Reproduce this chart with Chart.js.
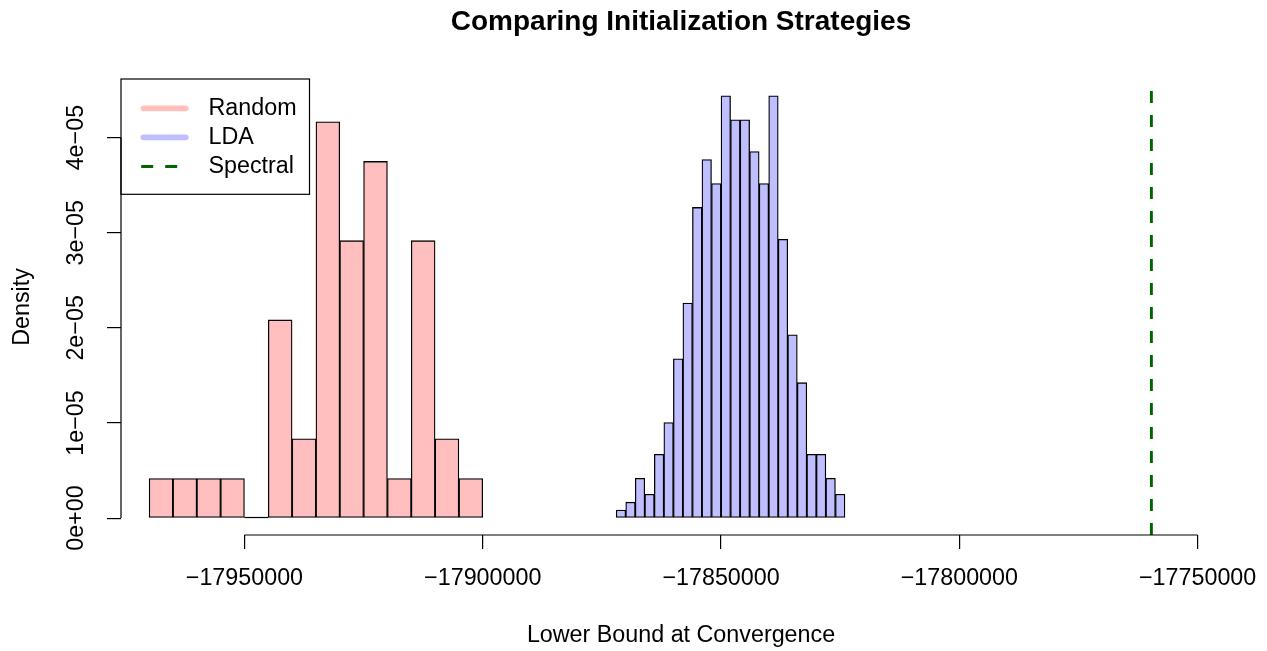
<!DOCTYPE html>
<html>
<head>
<meta charset="utf-8">
<script src="https://cdn.jsdelivr.net/npm/chart.js@4/dist/chart.umd.min.js"></script>
<style>
html,body{margin:0;padding:0;background:#fff;}
#wrap{width:1267px;height:651px;position:relative;}
</style>
</head>
<body>
<div id="wrap"><canvas id="c"></canvas></div>
<script>
// ---- data ----
const titleText = 'Comparing Initialization Strategies';
const xTitleText = 'Lower Bound at Convergence';
const yTitleText = 'Density';
const seriesNames = ['Random', 'LDA', 'Spectral'];

const randomBreaks = [-17970000, -17965000, -17960000, -17955000, -17950000, -17945000, -17940000,
  -17935000, -17930000, -17925000, -17920000, -17915000, -17910000, -17905000, -17900000];
const randomCounts = [1, 1, 1, 1, 0, 5, 2, 10, 7, 9, 1, 7, 2, 1];

const ldaBreaks = [-17872000, -17870000, -17868000, -17866000, -17864000, -17862000, -17860000,
  -17858000, -17856000, -17854000, -17852000, -17850000, -17848000, -17846000, -17844000,
  -17842000, -17840000, -17838000, -17836000, -17834000, -17832000, -17830000, -17828000,
  -17826000, -17824000];
const ldaCounts = [1, 2, 5, 3, 8, 12, 20, 27, 39, 45, 42, 53, 50, 50, 46, 42, 53, 35, 23, 17, 8, 8, 5, 3];

const spectralValue = -17759700;

const xTickValues = [-17950000, -17900000, -17850000, -17800000, -17750000];
const yTickValues = [0, 1e-5, 2e-5, 3e-5, 4e-5];
const xLimits = [-17975900, -17740900];

// ---- styling ----
const FONT = "'Liberation Sans', Arial, Helvetica, sans-serif";
const BASE = 23.3;
const randomFill = 'rgb(255,191,191)';
const ldaFill = 'rgb(191,191,255)';
const spectralColor = '#006400';

// histogram densities (count / (n * binwidth))
function toBars(breaks, counts) {
  const total = counts.reduce((a, b) => a + b, 0);
  return counts.map((c, i) => ({
    x: (breaks[i] + breaks[i + 1]) / 2,
    y: c / (total * (breaks[i + 1] - breaks[i]))
  }));
}
const randomData = toBars(randomBreaks, randomCounts);
const ldaData = toBars(ldaBreaks, ldaCounts);
const yTop = Math.max(...randomData.map(d => d.y), ...ldaData.map(d => d.y));
const yLimits = [-0.04 * yTop, 1.04 * yTop];

function fmtX(v) { return (v < 0 ? '\u2212' : '') + Math.abs(v); }
function fmtY(v) {
  if (v === 0) return '0e+00';
  const e = Math.floor(Math.log10(Math.abs(v)) + 1e-9);
  const m = Math.round(v / Math.pow(10, e));
  return m + 'e' + (e < 0 ? '\u2212' : '+') + String(Math.abs(e)).padStart(2, '0');
}

// R-style axis lines (only between first and last tick) + zero-height bins + legend
const rAxes = {
  id: 'rAxes',
  afterDatasetsDraw(chart) {
    const ctx = chart.ctx;
    ctx.save();
    ctx.strokeStyle = '#000';
    ctx.lineWidth = 1.2;
    chart.data.datasets.forEach((ds, di) => {
      if (ds.type === 'line') return;
      const meta = chart.getDatasetMeta(di);
      meta.data.forEach((el, i) => {
        if (ds.data[i].y === 0) {
          const p = el.getProps(['x', 'width', 'base'], true);
          ctx.beginPath();
          ctx.moveTo(p.x - p.width / 2, p.base - 0.6);
          ctx.lineTo(p.x + p.width / 2, p.base - 0.6);
          ctx.stroke();
        }
      });
    });
    ctx.restore();
  },
  afterDraw(chart) {
    const {ctx, chartArea: a, scales: {x, y}} = chart;
    ctx.save();
    ctx.strokeStyle = '#000';
    ctx.lineWidth = 1.2;
    ctx.beginPath();
    ctx.moveTo(x.getPixelForValue(xTickValues[0]), a.bottom);
    ctx.lineTo(x.getPixelForValue(xTickValues[xTickValues.length - 1]), a.bottom);
    ctx.moveTo(a.left, y.getPixelForValue(yTickValues[0]));
    ctx.lineTo(a.left, y.getPixelForValue(yTickValues[yTickValues.length - 1]));
    ctx.stroke();

    // legend (top-left of plot region)
    const L = a.left, T = a.top, W = 188.5, H = 115.3;
    ctx.lineWidth = 1.2;
    ctx.strokeRect(L, T, W, H);
    const rowY = [T + 29.3, T + 58.3, T + 87.5];
    chart.data.datasets.forEach((ds, i) => {
      const yy = rowY[i];
      ctx.beginPath();
      if (ds.type === 'line') {
        ctx.setLineDash(ds.borderDash);
        ctx.lineCap = 'butt';
        ctx.lineWidth = ds.borderWidth;
        ctx.strokeStyle = ds.borderColor;
        ctx.moveTo(L + 20.2, yy);
        ctx.lineTo(L + 68, yy);
      } else {
        ctx.setLineDash([]);
        ctx.lineCap = 'round';
        ctx.lineWidth = 5.8;
        ctx.strokeStyle = ds.backgroundColor;
        ctx.moveTo(L + 22.5, yy);
        ctx.lineTo(L + 64.7, yy);
      }
      ctx.stroke();
      ctx.setLineDash([]);
      ctx.fillStyle = '#000';
      ctx.font = BASE + 'px ' + FONT;
      ctx.textAlign = 'left';
      ctx.textBaseline = 'middle';
      ctx.fillText(ds.label, L + 87.5, yy);
    });
    ctx.restore();
  }
};

const tickGrid = {
  display: true, drawOnChartArea: false, drawTicks: true, tickLength: 14,
  color: '#000', lineWidth: 1.2, offset: false
};

new Chart(document.getElementById('c'), {
  type: 'bar',
  data: {
    datasets: [
      {
        label: seriesNames[0], data: randomData, xAxisID: 'x',
        backgroundColor: randomFill, borderColor: '#000', borderWidth: 1.3,
        borderSkipped: false, barPercentage: 1, categoryPercentage: 1, grouped: false
      },
      {
        label: seriesNames[1], data: ldaData, xAxisID: 'x2',
        backgroundColor: ldaFill, borderColor: '#000', borderWidth: 1.3,
        borderSkipped: false, barPercentage: 1, categoryPercentage: 1, grouped: false
      },
      {
        type: 'line', label: seriesNames[2], xAxisID: 'x',
        data: [{x: spectralValue, y: yLimits[0]}, {x: spectralValue, y: yLimits[1]}],
        borderColor: spectralColor, borderWidth: 2.9, borderDash: [12, 12],
        pointRadius: 0, fill: false, tension: 0
      }
    ]
  },
  options: {
    responsive: true,
    maintainAspectRatio: false,
    animation: false,
    events: [],
    layout: {padding: {left: 0, right: 26, top: 0, bottom: 0}},
    plugins: {
      legend: {display: false},
      tooltip: {enabled: false},
      title: {
        display: true, text: titleText, color: '#000', fullSize: false,
        font: {family: FONT, size: 28, weight: 'bold'},
        padding: {top: 5, bottom: 40.4}
      }
    },
    scales: {
      x: {
        type: 'linear', position: 'bottom', min: xLimits[0], max: xLimits[1], offset: false,
        afterBuildTicks: s => { s.ticks = xTickValues.map(v => ({value: v})); },
        afterFit: s => { s.height = 116; s.paddingLeft = 0; s.paddingRight = 0; },
        grid: tickGrid,
        border: {display: false},
        ticks: {
          autoSkip: false, maxRotation: 0, minRotation: 0, padding: 15.7, color: '#000',
          font: {family: FONT, size: BASE}, callback: v => fmtX(v)
        },
        title: {
          display: true, text: xTitleText, color: '#000',
          font: {family: FONT, size: BASE}, padding: {top: 0, bottom: 1}
        }
      },
      x2: {
        type: 'linear', display: false, min: xLimits[0], max: xLimits[1], offset: false
      },
      y: {
        type: 'linear', position: 'left', min: yLimits[0], max: yLimits[1],
        afterBuildTicks: s => { s.ticks = yTickValues.map(v => ({value: v})); },
        afterFit: s => { s.width = 121; s.paddingTop = 0; s.paddingBottom = 0; },
        grid: tickGrid,
        border: {display: false},
        ticks: {
          autoSkip: false, minRotation: 90, maxRotation: 90, crossAlign: 'center', padding: -2.5,
          color: '#000', font: {family: FONT, size: BASE}, callback: v => fmtY(v)
        },
        title: {
          display: true, text: yTitleText, color: '#000',
          font: {family: FONT, size: BASE}, padding: {top: 9, bottom: 0}
        }
      }
    }
  },
  plugins: [rAxes]
});
</script>
</body>
</html>
